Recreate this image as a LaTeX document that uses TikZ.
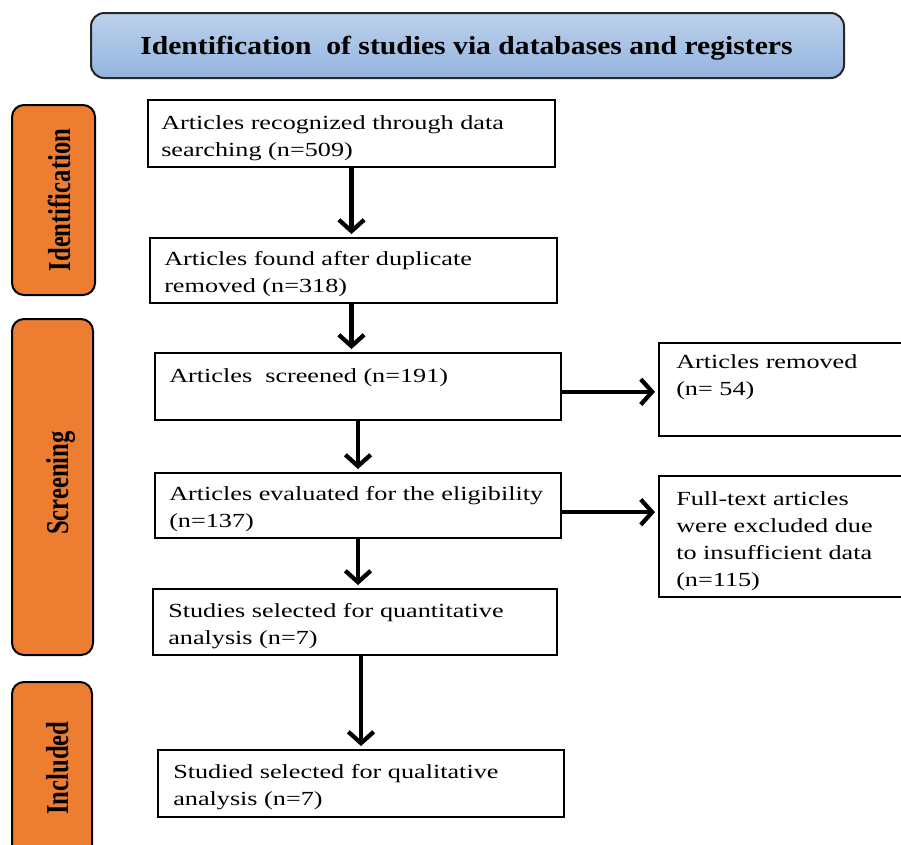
\documentclass[tikz,border=0pt]{standalone}
\usepackage{fontspec}
\setmainfont{Liberation Serif}
\newfontfamily\bodyfont{Liberation Serif}[FakeStretch=1.31]
\newfontfamily\banfont{Liberation Serif}[FakeStretch=1.14]
\usetikzlibrary{arrows.meta}
\definecolor{banTop}{HTML}{BDD1EB}
\definecolor{banBot}{HTML}{93B4DF}
\definecolor{phase}{HTML}{ED7D31}
\newcommand\mylines[1]{\begin{tabular}[t]{@{}l@{}}#1\end{tabular}}
\tikzset{
  box/.style={draw=black, line width=1.6pt, fill=white, inner sep=0pt, outer sep=0pt, anchor=north west},
  phasebox/.style={draw=black, line width=1.5pt, fill=phase, rounded corners=9pt, inner sep=0pt, outer sep=0pt, anchor=north west},
  txt/.style={inner sep=0pt, anchor=base west, font=\bodyfont\fontsize{15}{20.25}\selectfont},
  sidetxt/.style={inner sep=0pt, anchor=base, rotate=90, font=\fontsize{18.5}{20}\selectfont\bfseries},
  arr/.style={line width=3.2pt, -{Straight Barb[length=8.5pt,width=19pt,line width=3.2pt]}, shorten >=3pt}
}
\begin{document}
\begin{tikzpicture}[x=0.75pt,y=-0.75pt]
\useasboundingbox (0,0) rectangle (901,844);
% banner
\node[draw=black!85, line width=1.5pt, rounded corners=10pt, top color=banTop, bottom color=banBot,
      minimum width=564.75pt, minimum height=48.75pt, inner sep=0pt, anchor=north west] (ban) at (90,12) {};
\node[inner sep=0pt, anchor=base, font=\banfont\fontsize{19.5}{22}\selectfont\bfseries] (bantxt) at (466.5,54)
  {Identification\ \ of studies via databases and registers};
% phase boxes
\node[phasebox, minimum width=62.25pt, minimum height=142.5pt] (pid) at (12,105) {};
\node[sidetxt] (pidt) at (70,200) {\scalebox{1}[1.29]{Identification}};
\node[phasebox, minimum width=60.75pt, minimum height=252pt] (pscr) at (12,319) {};
\node[sidetxt] (pscrt) at (68,483) {\scalebox{1}[1.29]{Screening}};
\node[phasebox, minimum width=60pt, minimum height=141pt] (pinc) at (12,682) {};
\node[sidetxt] (pinct) at (68,768) {\scalebox{1}[1.29]{Included}};
% main boxes
\node[box, minimum width=305.25pt, minimum height=50.25pt] (b1) at (148,100) {};
\node[txt] (t1) at (161,129) {\mylines{Articles recognized through data\\searching (n=509)}};
\node[box, minimum width=305.25pt, minimum height=48.75pt] (b2) at (150,238) {};
\node[txt] (t2) at (164,265) {\mylines{Articles found after duplicate\\removed (n=318)}};
\node[box, minimum width=304.5pt, minimum height=50.25pt] (b3) at (155,353) {};
\node[txt] (t3) at (169,382) {\mylines{Articles\ \ screened (n=191)}};
\node[box, minimum width=304.5pt, minimum height=48.75pt] (b4) at (155,473) {};
\node[txt] (t4) at (169,500) {\mylines{Articles evaluated for the eligibility\\(n=137)}};
\node[box, minimum width=303pt, minimum height=49.5pt] (b5) at (153,589) {};
\node[txt] (t5) at (168,617) {\mylines{Studies selected for quantitative\\analysis (n=7)}};
\node[box, minimum width=304.5pt, minimum height=50.25pt] (b6) at (158,750) {};
\node[txt] (t6) at (173,778) {\mylines{Studied selected for qualitative\\analysis (n=7)}};
% right boxes
\node[box, minimum width=183pt, minimum height=69.75pt] (rem) at (659,343) {};
\node[txt] (trem) at (676,368) {\mylines{Articles removed\\(n= 54)}};
\node[box, minimum width=183pt, minimum height=90.75pt] (ft) at (659,476) {};
\node[txt] (tft) at (676,505) {\mylines{Full-text articles\\were excluded due\\to insufficient data\\(n=115)}};
% arrows
\draw[arr] (b1.south) -- (b1.south |- b2.north);
\draw[arr] (b1.south |- b2.south) -- (b1.south |- b3.north);
\draw[arr] (b3.south) -- (b4.north);
\draw[arr] (b4.south) -- (b4.south |- b5.north);
\draw[arr] (b6.north |- b5.south) -- (b6.north);
\draw[arr] ([yshift=-4pt]b3.east) -- ([yshift=-4pt]b3.east -| rem.west);
\draw[arr] ([yshift=-5pt]b4.east) -- ([yshift=-5pt]b4.east -| ft.west);
\end{tikzpicture}
\end{document}
